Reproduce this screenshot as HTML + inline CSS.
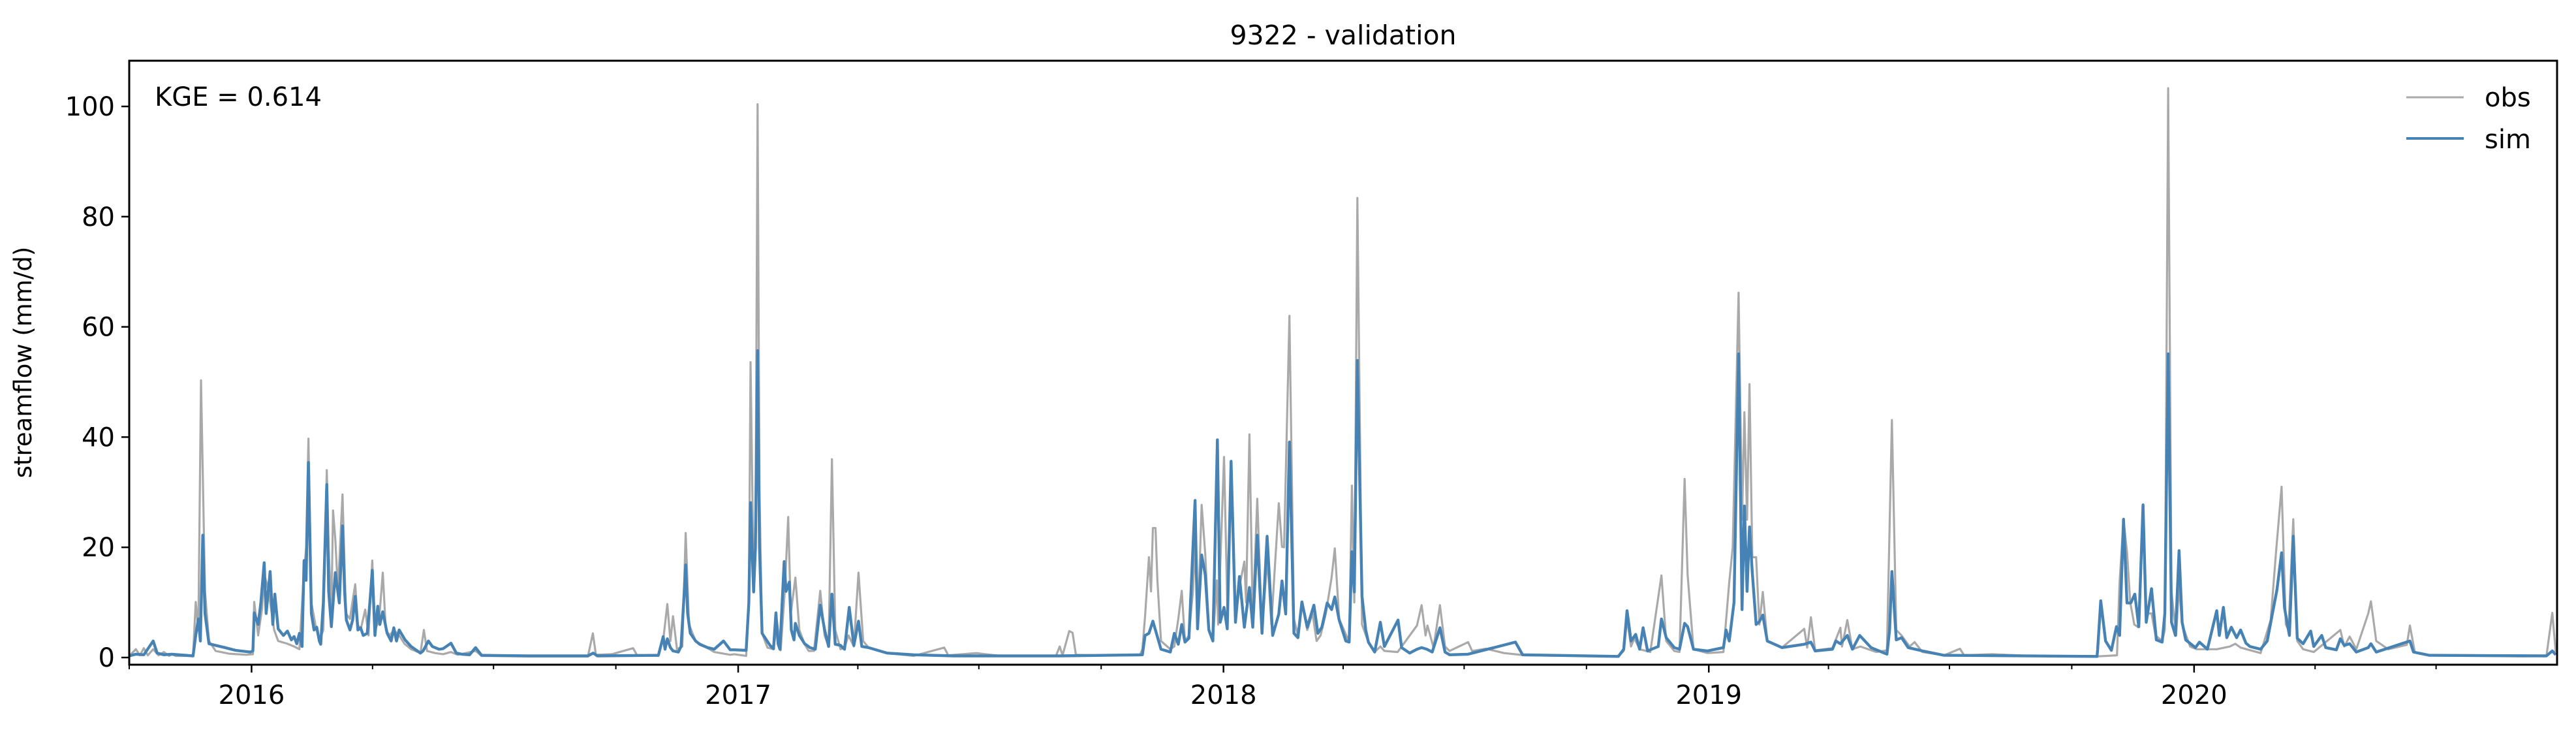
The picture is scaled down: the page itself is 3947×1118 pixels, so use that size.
<!DOCTYPE html>
<html><head><meta charset="utf-8"><title>9322 - validation</title>
<style>
html,body{margin:0;padding:0;background:#fff;}
svg{display:block;font-family:"DejaVu Sans","Liberation Sans",sans-serif;}
</style></head>
<body>
<svg id="chart" width="3947" height="1118" viewBox="0 0 3947 1118" xmlns="http://www.w3.org/2000/svg">
<rect x="0" y="0" width="3947" height="1118" fill="#fff"/>
<text x="2058" y="68" font-size="41" text-anchor="middle">9322 - validation</text>
<text transform="translate(48,555) rotate(-90)" font-size="37" text-anchor="middle">streamflow (mm/d)</text>
<g id="plot"></g>
<g id="yaxis"></g>
<g id="xaxis"></g>
<rect x="198" y="93" width="3720" height="925" fill="none" stroke="#000" stroke-width="3"/>
<text x="237" y="162" font-size="40">KGE = 0.614</text>
<g>
  <line x1="3687" y1="149" x2="3775" y2="149" stroke="#a9a9a9" stroke-width="3"/>
  <text x="3807" y="163" font-size="40">obs</text>
  <line x1="3687" y1="212" x2="3775" y2="212" stroke="#4682b4" stroke-width="4"/>
  <text x="3807" y="227" font-size="40">sim</text>
</g>
</svg>
<script>
// days since 2015-10-01 and values (mm/d)
const obsDays = [0,5,8,11,14,18,22,26,30,32,35,48,50,52,54,57,60,65,75,88,93,94,97,100,101.5,104,106,109,112,119,124,128,131,133,134.8,137,140,143,146,148.6,150,152,153.3,155,157,160.4,163,166,168,170,172,174,177.5,180,182.8,185,188,190.7,193,196,199,203,207,212,219,221.6,224,230,236,242,247,260.5,265,300,345,348.7,351,363,379,382,398,402,404.7,407,409,412,416,418.5,421,426,440,452,
455,464,466,467.3,469.6,471,472.6,474,476,480,484.6,487.3,490,493,495.6,497.6,501,504,508,511,515,519.7,523,526,528.5,531,535,538,541,545,548.5,552,556,570,590,613,616,637,655,697,699.8,702,707,709.5,712,730,760,762,764,766.9,768.5,769.9,771.9,773.3,776,783,786,789,791.6,794,797,800,801.6,803.5,806.6,809.3,812,815,818,819,823.4,826,828.7,832,835,838.7,840,842.5,845,848.4,852,856,859,864.6,867,868.6,872.6,876,879,882,886,890,893,896,900,904.3,906.7,910,917.5,919.6,921.4,923.7,927.2,932,936.7,941,944,954,968.5,972,975,976.4,981,985.8,989.6,993,1007,1010,1020.5,1034,1050,1120,1124,1126.5,1129.5,1132,1136,1144,1152.4,1156,1162,1166,1169.8,1172.1,1176.5,1187,1199,1203.4,1206,1210.4,1213,1214.8,1216.8,1218.6,1220.7,1223.6,1226,1228.6,1232,1243,1259.8,1262,1264.8,1268,1281,1287,1288.2,1292.2,1296,1302,1314,1322,1325.7,1329,1333,1339,1342.8,1348.7,1365,
1376.9,1380,1401,1430,1480,1495,1496.9,1499.9,1502.5,1505,1508,1511,1514.6,1517,1521,1524,1529,1531,1533.5,1536,1539.5,1541.7,1544,1550,1555,1570,1580,1584,1588,1603,1610.6,1614.6,1618.8,1622,1624,1627.6,1630.6,1635,1643,1663,1666,1670,1675,1684,1686,1690,1699,1713,1715.3,1719,1730,1800,1818,1822.4,1825];
const obsVals = [0.3,1.5,0.4,1.7,0.4,1.5,0.4,1.0,0.3,0.6,0.3,0.3,10.1,5,50.3,12,3,1.2,0.7,0.5,0.6,10.1,4,9,15,13,10,5,3,2.5,2,1.5,14,20,39.7,10,6,3,5,34,20,8,26.7,21.4,12,29.6,8,7,10.3,13.3,6,5,8.7,4,17.6,5,7,15.4,5,4,5,4,2.5,1.5,0.8,5,1.2,0.8,0.6,1.0,0.5,1.2,0.3,0.2,0.2,4.4,0.5,0.6,1.7,0.4,0.3,4,9.7,3,7.5,1.5,2,22.6,6,3,1.0,0.5,
0.6,0.3,10,53.6,14,20,100.4,30,4.4,1.8,1.5,6.4,1.3,12,25.5,8,14.5,5,2.4,1.2,1.2,12.1,4,2,36,5,1.5,1.8,4,2,15.4,3,1.8,0.8,0.3,1.8,0.4,0.8,0.3,0.3,2,0.4,4.8,4.5,0.5,0.4,0.4,1.5,7.5,18.2,12,23.5,23.5,14,3,1.5,2,7,12.1,3,4,12,20.6,5.2,27.7,18.8,5,3,14,6,36.4,8,35.2,6.4,12.9,17.4,10,40.5,7,28.8,5,18,6,28,20.1,20,62,7,4,10,5,8,3,4,8,14.5,19.8,7,2.8,31.2,10,83.4,6,2.8,1.0,2,1.2,1.0,5.8,9.5,4,5.8,1.8,9.5,2,1.2,2.8,1.2,1.6,0.8,0.4,0.2,1.2,7,2,3.5,1.5,1.0,14.9,3,1.2,1.0,32.4,15,1.5,0.8,1.0,13.7,20,66.2,25,44.5,25,49.6,18.2,18.2,6,11.9,3,1.8,5.2,1.8,7.3,1.3,1.7,5.4,2,6.8,1.5,2,1.0,1.3,43.1,5,4,2,2.8,1.0,0.4,
1.6,0.4,0.6,0.3,0.2,0.4,13.3,25.1,19.2,10,6,5.5,25,8,8,4,3,5,103.3,12,4,13.1,6,2,1.5,1.5,2,2.5,1.8,0.8,6.8,19,31,6,5,25.1,3,1.5,1.0,5,2,3.8,1.5,8,10.2,3,1.5,2.3,5.8,1.0,0.4,0.2,0.3,8.1,1];

const simDays = [0,5,11,18,21,26,32,48,50,52,53.5,55.3,57,60,65,72,80,91,93,94,97,99,101.5,103,106,108,109.5,112,116,119,122,124,126,128,130,131.5,133,134.8,137,139,141,143,144,146,148.6,150,152,155,158,160.4,162,163.3,166,168,170,172,174,176,179,181,182.8,184.8,186.9,188.5,190.7,194,197,199,201,203,207.5,212,219,221,225,228,233,236,242,246,250,256,260.5,265,300,345,349,352,398,401.6,403,404.7,407,409,413,415,417,418.5,420,422,426,429,435,440,447,452,
455,464,466,467.3,469.6,471,472.6,474,476,482,484.6,486.4,488,489.4,492.6,494,496.5,498,500,501,504,508,512,516,519.7,523,526,528.5,531,535,538,541.5,545,548.5,551,556,570,590,620,700,762,764,766.9,769.9,773,776,783,786,789,791.6,794,797,801.6,803.5,806.6,809.3,812,815,818.4,820.5,823.4,825.8,828.7,832,835,838.7,842.5,845,848.4,852,855.8,860,864.6,867,869.8,872.6,876,879,882,886,891,894,897,901,904.3,906.7,910,915,917.5,919.6,921.4,923.7,927.2,930,932,936.7,941,944,954.3,957,963,968.5,972,976,980,985.8,989.6,993,1007,1042.6,1048,1120,1124,1126.5,1129.5,1133,1136,1138.6,1142,1150,1152.4,1156,1162,1166,1169.8,1172.1,1176.5,1187,1199,1201,1203.4,1207,1210.4,1213,1214.8,1216.8,1218.6,1220.7,1223.6,1226,1228.6,1232,1243,1259.8,1264.8,1268,1281,1283.6,1287,1292.2,1296,1301.5,1310,1322,1324,1325.7,1329,1333,1338,1348.7,1365,
1480,1480.5,1482.8,1486.4,1490.8,1494.6,1497,1499.9,1502.5,1505.4,1508.4,1511.4,1514.6,1517,1521,1524.6,1529,1531,1533.5,1536,1539,1541.7,1544,1546.7,1554,1557,1563,1570,1572,1575,1577.6,1581,1585,1588,1592,1595,1603,1608,1615.3,1618.8,1621,1624.7,1627.6,1630.6,1635,1640.7,1643,1649,1652,1660,1663,1666,1670,1675,1684,1686,1690,1715.3,1718,1730,1818,1822.4,1825];
const simVals = [0.3,0.6,0.5,3.0,0.8,0.5,0.6,0.3,4,7,3,22.2,8,2.5,2.2,1.8,1.3,1.0,1.2,8.1,6,10,17.2,8,15.6,6,11.5,5.2,4,4.8,3.2,3.8,2.5,4.4,2,17.6,14,35.4,8,5,5.5,3,2.4,10,31.4,12,5.6,15.4,9.9,23.9,12,6.8,5,6.8,11.1,5,5.4,4,4.4,10,15.8,4,9.3,6,8.3,4.4,3,5.4,3,5,3.2,2,0.8,1.2,3,2,1.5,1.6,2.6,0.8,0.6,0.5,1.8,0.4,0.3,0.3,0.8,0.3,0.4,3.8,1.5,3.4,1.8,1.2,1.0,2,10,16.8,8,4.4,3,2.4,1.8,1.5,3,1.4,
1.4,1.3,10,28.1,11.9,20,55.7,20,4.4,2.2,1.6,8.1,2.5,1.5,17.4,12,13.7,5,3.2,6.2,4,2.5,1.8,1.5,9.5,5,2,11.5,2.4,2.2,1.5,9.1,2.2,6.6,2,1.8,0.8,0.5,0.3,0.3,0.5,4,4.4,6.6,4,1.5,1.0,4.4,2.4,6,2.8,3.5,28.5,5.2,18.6,15,5,3,39.5,6.4,9.1,5.2,35.6,6.4,14.7,5.5,12.7,5.5,22.2,4.4,22,4,7.9,13.9,7.9,39.1,4.4,3.6,10.1,5.5,9.5,4.4,5.5,9.9,8.7,11,6.8,3,2.8,19.2,11.9,53.9,11.1,5,2.8,1.0,6.4,2,6.8,1.8,0.8,1.5,1.8,1.5,1.0,5.4,1.0,0.5,0.6,2.8,0.5,0.2,1.5,8.5,3,4.2,1.5,5.4,1.2,2,7,3.6,1.8,1.5,6.2,5.6,1.5,1.2,1.8,5,3,10,55.1,8.7,27.5,12,23.7,15.4,6,6.5,7.7,3,1.8,2.4,2.8,1.2,1.5,3,2.5,4,1.5,4,1.8,0.6,5,15.6,3.2,3.6,1.8,1.2,0.4,
0.2,1.5,10.3,3,1.3,5.6,4,25.1,9.9,9.9,11.5,5.6,27.7,6.4,12.5,3.2,2.8,8,55.1,6.4,4,19.4,6.4,3.2,1.8,2.8,1.5,8.5,4,9.1,3.6,5.5,3.6,5,2.6,2,1.5,3,12.3,19,9,4,22,3.5,2.5,4.8,2,4,1.8,1.4,3.4,2.2,2.5,1.0,1.8,2.5,1.0,3,1.0,0.4,0.3,1.2,0.5];

const yTicks = [0,20,40,60,80,100];
const yearLabels = ["2016","2017","2018","2019","2020"];
const yearDays = [92,458,823,1188,1553];
const minorDays = [0,183,274,366,548,639,731,913,1004,1096,1278,1369,1461,1644,1735];

const X0 = 198, X1 = 3918, DAYSPAN = 1826;
const Y0 = 1007, PXPERUNIT = 8.44;
function xScale(d){ return X0 + d * (X1 - X0) / DAYSPAN; }
function yScale(v){ return Y0 - v * PXPERUNIT; }
const NS = "http://www.w3.org/2000/svg";
function mk(tag, attrs, parent){ const e = document.createElementNS(NS, tag); for (const k in attrs) e.setAttribute(k, attrs[k]); parent.appendChild(e); return e; }

const plot = document.getElementById('plot');
function drawLine(days, vals, color, w, name){
  let d = "";
  for (let i = 0; i < days.length; i++) d += (i ? "L" : "M") + xScale(days[i]).toFixed(1) + "," + yScale(vals[i]).toFixed(1);
  const p = mk('path', {d: d, fill: 'none', stroke: color, 'stroke-width': w, 'stroke-linejoin': 'round'}, plot);
  
  
}
drawLine(obsDays, obsVals, '#a9a9a9', 3.2, 'obs-line');
drawLine(simDays, simVals, '#4682b4', 4.4, 'sim-line');

const ya = document.getElementById('yaxis');
yTicks.forEach(v => {
  const y = yScale(v);
  const t = mk('line', {x1: X0 - 12, y1: y, x2: X0, y2: y, stroke: '#000', 'stroke-width': 2.5}, ya);
  
  
  const l = mk('text', {x: X0 - 22, y: y + 14, 'font-size': 40, 'text-anchor': 'end'}, ya);
  l.textContent = String(v);
  
  
});

const xa = document.getElementById('xaxis');
yearDays.forEach((d, i) => {
  const x = xScale(d);
  const t = mk('line', {x1: x, y1: 1018, x2: x, y2: 1030, stroke: '#000', 'stroke-width': 2.5}, xa);
  
  
  const l = mk('text', {x: x, y: 1078, 'font-size': 40, 'text-anchor': 'middle'}, xa);
  l.textContent = yearLabels[i];
  
  
});
minorDays.forEach(d => {
  const x = xScale(d);
  const t = mk('line', {x1: x, y1: 1018, x2: x, y2: 1025, stroke: '#000', 'stroke-width': 2}, xa);
  
  
});
</script>
</body></html>
